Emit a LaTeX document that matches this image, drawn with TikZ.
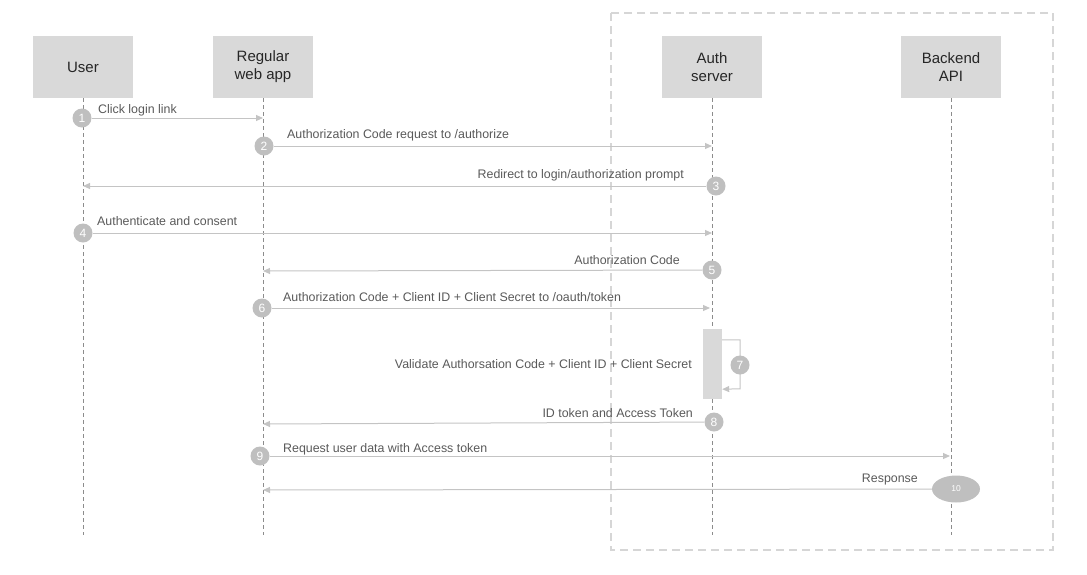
\documentclass[tikz,border=0pt]{standalone}
\usepackage{fontspec}
\setmainfont{Liberation Sans}
\usetikzlibrary{arrows.meta,positioning,shapes.geometric}
\definecolor{boxgray}{HTML}{D9D9D9}
\definecolor{numgray}{HTML}{BFBFBF}
\definecolor{linegray}{HTML}{C4C4C4}
\definecolor{textgray}{HTML}{595959}
\definecolor{lifegray}{HTML}{8C8C8C}
\definecolor{groupgray}{HTML}{D6D6D6}

\begin{document}
\begin{tikzpicture}[x=1pt,y=-1pt,
    actor/.style={fill=boxgray, minimum width=100pt, minimum height=62pt, align=center,
        inner sep=2pt, font=\fontsize{15}{18}\selectfont, text=black!85},
    life/.style={draw=lifegray, line width=0.8pt, dash pattern=on 4pt off 3pt},
    group/.style={draw=groupgray, line width=1.5pt, dash pattern=on 8pt off 5pt},
    num/.style={circle, fill=numgray, text=white, inner sep=0pt, minimum size=19pt,
        font=\fontsize{12}{12}\selectfont},
    msg/.style={draw=linegray, line width=1pt, -{Triangle[length=7pt,width=6pt]}},
    lbl/.style={text=textgray, inner sep=0pt, yshift=-1.5pt, font=\fontsize{12.4}{14}\selectfont},
    actbox/.style={fill=boxgray, minimum width=19pt, minimum height=70pt, inner sep=0pt}]
    \useasboundingbox (0,0) rectangle (1087,574);

    % Auth side group
    \draw[group] (611,13) rectangle (1053,550);

    % Actors
    \node[actor] (user) at (83,67) {User};
    \node[actor] (webapp) at (263,67) {Regular\\web app};
    \node[actor] (auth) at (712,67) {Auth\\server};
    \node[actor] (api) at (951,67) {Backend\\API};

    % Lifelines
    \coordinate (userE) at (83,535);
    \coordinate (webappE) at (263,535);
    \coordinate (authE) at (712,535);
    \coordinate (apiE) at (951,535);
    \draw[life] (user) -- (userE);
    \draw[life] (webapp) -- (webappE);
    \draw[life] (auth) -- (authE);
    \draw[life] (api) -- (apiE);

    % 1 - 6
    \node[num] (m1) at (82,118) {1};
    \coordinate (m1to) at (263,118);
    \draw[msg] (m1) -- (m1to);
    \node[lbl, anchor=west] (t1) at (98,109) {Click login link};

    \node[num] (m2) at (264,146) {2};
    \coordinate (m2to) at (712,146);
    \draw[msg] (m2) -- (m2to);
    \node[lbl, anchor=west] (t2) at (287,134) {Authorization Code request to /authorize};

    \node[num] (m3) at (716,186) {3};
    \coordinate (m3to) at (83,186);
    \draw[msg] (m3) -- (m3to);
    \node[lbl, anchor=east] (t3) at (684,174) {Redirect to login/authorization prompt};

    \node[num] (m4) at (83,233) {4};
    \coordinate (m4to) at (712,233);
    \draw[msg] (m4) -- (m4to);
    \node[lbl, anchor=west] (t4) at (97,220) {Authenticate and consent};

    \node[num] (m5) at (712,270) {5};
    \coordinate (m5to) at (263,271);
    \draw[msg] (m5) -- (m5to);
    \node[lbl, anchor=east] (t5) at (680,259) {Authorization Code};

    \node[num] (m6) at (262,308) {6};
    \coordinate (m6to) at (710,308);
    \draw[msg] (m6) -- (m6to);
    \node[lbl, anchor=west] (t6) at (283,296) {Authorization Code + Client ID + Client Secret to /oauth/token};

    % 7 - validation on the auth server
    \node[actbox] (act) at (712.5,364) {};
    \draw[msg] ([yshift=-11pt]act.north east) -- ++(18,0) -- ++(0,49) -- ([yshift=10pt]act.south east);
    \node[num] (m7) at (740,365) {7};
    \node[lbl, anchor=east] (t7) at (692,363) {Validate Authorsation Code + Client ID + Client Secret};

    % 8 - 10
    \node[num] (m8) at (714,422) {8};
    \coordinate (m8to) at (263,424);
    \draw[msg] (m8) -- (m8to);
    \node[lbl, anchor=east] (t8) at (693,412) {ID token and Access Token};

    \node[num] (m9) at (260,456) {9};
    \coordinate (m9to) at (950,456);
    \draw[msg] (m9) -- (m9to);
    \node[lbl, anchor=west] (t9) at (283,448) {Request user data with Access token};

    \node[ellipse, fill=numgray, text=white, minimum width=48pt, minimum height=27pt,
        inner sep=0pt, font=\fontsize{8.5}{8.5}\selectfont] (m10) at (956,489) {10};
    \coordinate (m10to) at (263,490);
    \draw[msg] (m10) -- (m10to);
    \node[lbl, anchor=east] (t10) at (918,478) {Response};
\end{tikzpicture}
\end{document}
